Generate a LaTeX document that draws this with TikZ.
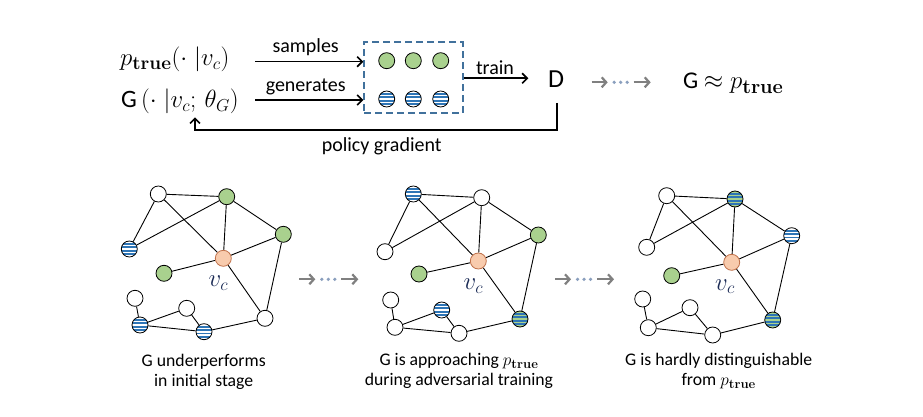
\documentclass[tikz,border=0pt]{standalone}
\usepackage[no-math]{fontspec}
\setmainfont{Carlito}
\newfontfamily\lmr{Latin Modern Roman}
\usetikzlibrary{arrows.meta}
\pgfdeclarelayer{background}
\pgfsetlayers{background,main}
\definecolor{ngreen}{HTML}{A9D18E}
\definecolor{norange}{HTML}{F8CBAD}
\definecolor{nobord}{HTML}{C0714A}
\definecolor{sblue}{HTML}{2E75B6}
\definecolor{boxblue}{HTML}{41719C}
\definecolor{arrgray}{HTML}{808080}
\definecolor{dotblue}{HTML}{8A9FBE}
\definecolor{vclabel}{HTML}{1A2A55}
\newcommand\ptr[1]{p_{\hbox{\fontsize{#1}{#1}\lmr\bfseries true}}}
\newcommand\vcsub[1]{v_{\hbox{\fontsize{#1}{#1}\selectfont$c$}}}
\newcommand\gedges[1]{%
  \draw[gedge] (#1t)--(#1g) (#1t)--(#1l) (#1t)--(#1o) (#1l)--(#1g) (#1g)--(#1o)
    (#1g)--(#1r) (#1r)--(#1o) (#1r)--(#1rl) (#1o)--(#1gl) (#1o)--(#1rl)
    (#1rl)--(#1lm) (#1lm)--(#1ll) (#1lm)--(#1m) (#1m)--(#1ll) (#1ll)--(#1s);}
\newcommand\grayarr[3]{%
  \coordinate (#1a) at (#2,#3);
  \coordinate (#1b) at (#2+16,#3);
  \coordinate (#1c) at (#2+42,#3);
  \coordinate (#1d) at (#2+59,#3);
  \draw[garr] (#1a) -- (#1b);
  \draw[garr] (#1c) -- (#1d);
  \foreach \dx in {22.5,29,35.5}{\fill[dotblue] (#2+\dx,#3) circle (1.8);}}
\begin{document}
\begin{tikzpicture}[x=1pt,y=-1pt,
  gnode/.style={circle,draw=black,line width=0.8pt,minimum size=16pt,inner sep=0pt},
  wn/.style={gnode,fill=white},
  gn/.style={gnode,fill=ngreen},
  onode/.style={gnode,fill=norange,draw=nobord},
  stripes/.style={path picture={\foreach \dy in {-5.1,-1.7,1.7,5.1}{\draw[sblue,line width=1.8pt] ([xshift=-10pt,yshift=\dy pt]path picture bounding box.center) -- ++(20pt,0);}}},
  bn/.style={gnode,fill=white,stripes},
  gbn/.style={gnode,fill=ngreen,stripes},
  gedge/.style={line width=0.9pt},
  arr/.style={line width=1.6pt,-{Straight Barb[length=5pt,width=10pt]}},
  garr/.style={line width=2.2pt,arrgray,-{Straight Barb[length=4.5pt,width=10pt]}},
  lbl/.style={inner sep=0pt,font=\fontsize{20}{24}\selectfont},
  vcl/.style={inner sep=0pt,text=vclabel,font=\fontsize{24}{28}\selectfont},
  captxt/.style={inner sep=0pt,align=center,font=\fontsize{17.7}{20}\selectfont},
  mtxt/.style={inner sep=0pt,anchor=base west}
]
\begin{pgfonlayer}{background}
\fill[white] (0,0) rectangle (923,417);
\end{pgfonlayer}
\useasboundingbox (0,0) rectangle (923,417);

% ---- top row ----
\node[mtxt,font=\fontsize{26}{30}\selectfont] (ptrue) at (120,66) {$\ptr{19}(\cdot\;|\vcsub{18})$};
\node[mtxt,font=\fontsize{25}{28}\selectfont] (gexp) at (121,107.3) {G\,$(\cdot\;|\vcsub{18};\,\theta_{\hbox{\fontsize{17}{17}\selectfont$G$}})$};

\node[draw=boxblue,line width=2pt,dash pattern=on 7pt off 4pt,minimum width=98.4pt,minimum height=71pt,inner sep=0pt] (box) at (413.5,77.8) {};
\node[gn] (s1) at (386.7,60.7) {};
\node[gn] (s2) at (413.3,60.7) {};
\node[gn] (s3) at (440.7,60.7) {};
\node[bn] (q1) at (386.7,99) {};
\node[bn] (q2) at (413.3,99) {};
\node[bn] (q3) at (440.7,99) {};

\coordinate (sA) at (255,61.7);
\coordinate (gA) at (255,100);
\draw[arr] (sA) -- (sA -| box.west);
\draw[arr] (gA) -- (gA -| box.west);
\node[lbl] (samples) at (305.7,46.7) {samples};
\node[lbl] (generates) at (305.7,86.7) {generates};

\node[inner sep=0pt,anchor=base,font=\fontsize{26}{30}\selectfont] (D) at (556,87.3) {D};
\coordinate (tr) at (528.3,78.3);
\draw[arr] (box.east |- tr) -- (tr);
\node[lbl] (train) at (495,67.3) {train};

\coordinate (pgA) at (556.7,103);
\coordinate (pgB) at (195,117.3);
\draw[arr] (pgA) -- (556.7,130) -| (pgB);
\node[lbl] (pg) at (381.7,146.7) {policy gradient};

\grayarr{top}{591.7}{82.3}
\node[mtxt,font=\fontsize{24}{28}\selectfont] (gapprox) at (683,89) {G $\approx \ptr{20}$};

% ---- graph 1 ----
\node[wn] (At) at (158.3,194) {};
\node[gn] (Ag) at (226.7,196.7) {};
\node[gn] (Ar) at (283.3,234.3) {};
\node[bn] (Al) at (129.3,249) {};
\node[onode] (Ao) at (223.3,258.3) {};
\node[gn] (Agl) at (164,273.3) {};
\node[wn] (As) at (135,298.3) {};
\node[wn] (Am) at (186.7,308.3) {};
\node[bn] (All) at (140,325) {};
\node[bn] (Alm) at (204,331.7) {};
\node[wn] (Arl) at (265,318.3) {};
\node[vcl] (Avc) at (218.3,283.3) {$\vcsub{17}$};

% ---- graph 2 ----
\node[bn] (Bt) at (413.3,194) {};
\node[wn] (Bg) at (481.7,197.7) {};
\node[gn] (Br) at (538.3,235) {};
\node[wn] (Bl) at (385,251.7) {};
\node[onode] (Bo) at (478.3,261) {};
\node[gn] (Bgl) at (419,274) {};
\node[wn] (Bs) at (390.7,300) {};
\node[bn] (Bm) at (441.7,310) {};
\node[wn] (Bll) at (395,327.3) {};
\node[wn] (Blm) at (459,333.3) {};
\node[gbn] (Brl) at (520,319) {};
\node[vcl] (Bvc) at (473.3,286) {$\vcsub{17}$};

% ---- graph 3 ----
\node[wn] (Ct) at (666.7,195.7) {};
\node[gbn] (Cg) at (735,199) {};
\node[bn] (Cr) at (791.7,235.7) {};
\node[wn] (Cl) at (646.7,247.3) {};
\node[onode] (Co) at (731.7,262.3) {};
\node[gn] (Cgl) at (671.7,275.7) {};
\node[wn] (Cs) at (642.7,299) {};
\node[wn] (Cm) at (690,307.7) {};
\node[wn] (Cll) at (648.3,327.7) {};
\node[wn] (Clm) at (712.7,335) {};
\node[gbn] (Crl) at (772.7,320) {};
\node[vcl] (Cvc) at (725,286.7) {$\vcsub{17}$};

\begin{pgfonlayer}{background}
\gedges{A}
\gedges{B}
\gedges{C}
\end{pgfonlayer}

\grayarr{b1}{299.3}{279.3}
\grayarr{b2}{555}{279.3}

% ---- captions ----
\node[captxt] (c1) at (203.7,372) {G underperforms\\in initial stage};
\node[captxt] (c2) at (459,371) {G is approaching $\ptr{13}$\\during adversarial training};
\node[captxt] (c3) at (718.7,371) {G is hardly distinguishable\\from $\ptr{13}$};
\end{tikzpicture}
\end{document}
